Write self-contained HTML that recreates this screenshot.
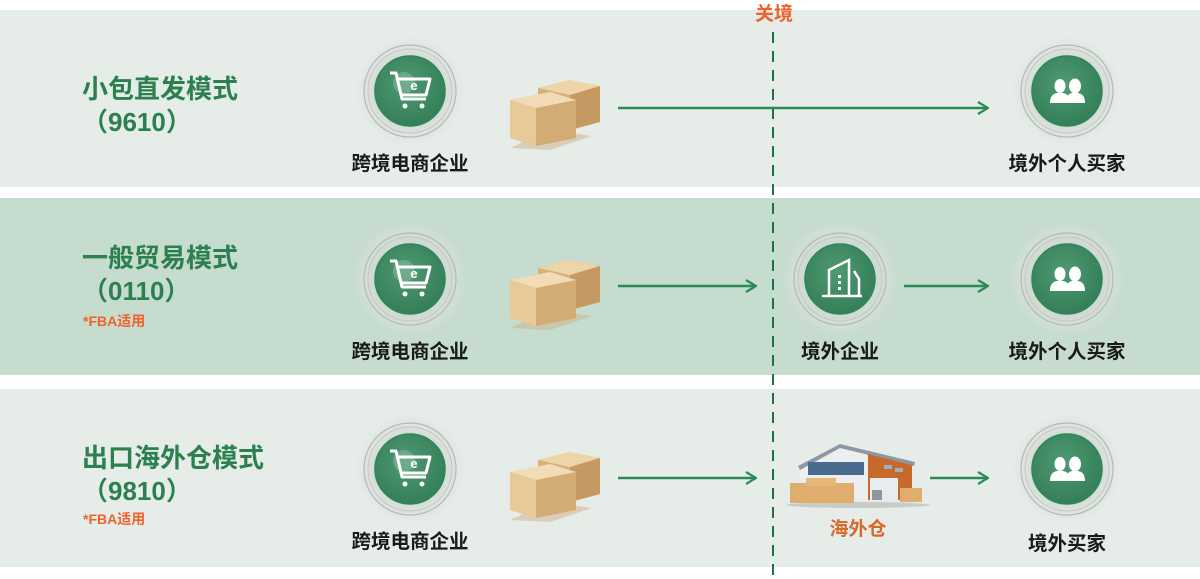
<!DOCTYPE html>
<html><head><meta charset="utf-8">
<style>
html,body{margin:0;padding:0;background:#fff;}
svg{display:block;}
text{font-family:"Liberation Sans","Noto Sans CJK SC",sans-serif;font-weight:bold;}
</style></head>
<body>
<svg width="1200" height="579" viewBox="0 0 1200 579" xmlns="http://www.w3.org/2000/svg">
<defs>
  <radialGradient id="halo" cx="50%" cy="50%" r="50%">
    <stop offset="0.55" stop-color="#cfd4d0" stop-opacity="0.9"/>
    <stop offset="0.8" stop-color="#dadfdb" stop-opacity="0.6"/>
    <stop offset="1" stop-color="#e3e7e4" stop-opacity="0"/>
  </radialGradient>
  <radialGradient id="gfill" cx="45%" cy="40%" r="60%">
    <stop offset="0" stop-color="#4e9a72"/>
    <stop offset="1" stop-color="#357f58"/>
  </radialGradient>
  <g id="circ">
    <circle r="57" fill="url(#halo)"/>
    <circle r="46" fill="none" stroke="#b3b9b5" stroke-width="1.2"/>
    <circle r="42" fill="none" stroke="#c2c7c3" stroke-width="1"/>
    <circle r="35" fill="url(#gfill)" stroke="#2a8a55" stroke-width="1.5"/>
  </g>
  <g id="cart">
    <use href="#circ"/>
    <circle cx="-6" cy="-8" r="11" fill="#fff" opacity="0.2"/>
    <path d="M-20 -18 L-14 -18 L-8 8 L16 8 M-12 -12 L20 -12 L16 4 L-8 4" fill="none" stroke="#fff" stroke-width="3" stroke-linejoin="round"/>
    <text x="4" y="-1" font-size="13" fill="#fff" text-anchor="middle">e</text>
    <circle cx="-5" cy="15" r="2.5" fill="#fff"/><circle cx="12" cy="15" r="2.5" fill="#fff"/>
  </g>
  <g id="people">
    <use href="#circ"/>
    <ellipse cx="-7" cy="-5" rx="5.5" ry="7" fill="#fff"/>
    <path d="M-17 12 Q-17 3 -10 2 L-4 2 Q3 3 3 12 Z" fill="#fff"/>
    <ellipse cx="8" cy="-5" rx="6" ry="7.5" fill="#fff"/>
    <path d="M-1 12 Q-1 3 5 2 L11 2 Q18 3 18 12 Z" fill="#fff"/>
  </g>
  <g id="bldg">
    <use href="#circ"/>
    <path d="M-11 17 L-11 -9 L9 -19 L9 17 M14 -8 L19 0 L19 17 M-18 17 L22 17" fill="none" stroke="#fff" stroke-width="2.5"/>
    <rect x="-2" y="-4" width="3" height="3" fill="#fff"/><rect x="-2" y="2" width="3" height="3" fill="#fff"/><rect x="-2" y="8" width="3" height="3" fill="#fff"/>
  </g>
  <g id="boxes">
    <path d="M0 70 L40 52 L82 58 L40 72 Z" fill="#c9b08a" opacity="0.5"/>
    <polygon points="28,10 60,2 90,8 90,44 60,52 28,44" fill="#d7b07a"/>
    <polygon points="28,10 60,17 90,8 60,2" fill="#eed5a8"/>
    <polygon points="60,17 90,8 90,44 60,52" fill="#c59a62"/>
    <polygon points="0,22 40,14 66,22 66,60 26,68 0,60" fill="#e0bd88"/>
    <polygon points="0,22 26,30 66,22 40,14" fill="#f1dcb5"/>
    <polygon points="26,30 66,22 66,60 26,68" fill="#d3ab74"/>
    <polygon points="0,22 26,30 26,68 0,60" fill="#e8c998"/>
  </g>
  <marker id="ah" viewBox="0 0 12 14" refX="11" refY="7" markerWidth="12" markerHeight="14" markerUnits="userSpaceOnUse" orient="auto">
    <path d="M1 1 L11 7 L1 13" fill="none" stroke="#2a8a55" stroke-width="2.2"/>
  </marker>
</defs>

<rect x="0" y="10" width="1200" height="177" fill="#e6ede8"/>
<rect x="0" y="198" width="1200" height="177" fill="#c6dccf"/>
<rect x="0" y="389" width="1200" height="178" fill="#e6ede8"/>

<line x1="773" y1="32" x2="773" y2="579" stroke="#1f6f48" stroke-width="2" stroke-dasharray="11 8"/>
<text x="774" y="20" font-size="19" fill="#f0622a" text-anchor="middle">关境</text>

<g fill="#2c8050" font-size="26">
<text x="82" y="98">小包直发模式</text>
<text x="82" y="131">（9610）</text>
<text x="82" y="267">一般贸易模式</text>
<text x="82" y="300">（0110）</text>
<text x="82" y="467">出口海外仓模式</text>
<text x="82" y="500">（9810）</text>
</g>
<text x="83" y="326" font-size="14" fill="#f0622a">*FBA适用</text>
<text x="83" y="524" font-size="14" fill="#f0622a">*FBA适用</text>

<use href="#cart" x="410" y="91"/>
<use href="#boxes" x="510" y="78"/>
<line x1="618" y1="108" x2="988" y2="108" stroke="#2a8a55" stroke-width="2.5" marker-end="url(#ah)"/>
<use href="#people" x="1067" y="91"/>
<g font-size="19.5" fill="#1a1a1a" text-anchor="middle">
<text x="410" y="170">跨境电商企业</text>
<text x="1067" y="170">境外个人买家</text>
</g>

<use href="#cart" x="410" y="279"/>
<use href="#boxes" x="510" y="258"/>
<line x1="618" y1="286" x2="756" y2="286" stroke="#2a8a55" stroke-width="2.5" marker-end="url(#ah)"/>
<use href="#bldg" x="840" y="279"/>
<line x1="904" y1="286" x2="988" y2="286" stroke="#2a8a55" stroke-width="2.5" marker-end="url(#ah)"/>
<use href="#people" x="1067" y="279"/>
<g font-size="19.5" fill="#1a1a1a" text-anchor="middle">
<text x="410" y="358">跨境电商企业</text>
<text x="840" y="358">境外企业</text>
<text x="1067" y="358">境外个人买家</text>
</g>

<use href="#cart" x="410" y="469"/>
<use href="#boxes" x="510" y="450"/>
<line x1="618" y1="478" x2="756" y2="478" stroke="#2a8a55" stroke-width="2.5" marker-end="url(#ah)"/>
<g>
  <ellipse cx="858" cy="505" rx="72" ry="3" fill="#c8ccc8"/>
  <polygon points="800,464 800,500 870,500 870,464 860,446 838,444" fill="#eceeef"/>
  <polygon points="798,466 840,444 915,462 914,466 840,448 800,470" fill="#8e98a4"/>
  <polygon points="868,454 912,465 912,500 868,500" fill="#c6692a"/>
  <rect x="808" y="462" width="56" height="13" fill="#4a6a8e"/>
  <rect x="884" y="465" width="8" height="4" fill="#9fb0c2"/>
  <rect x="895" y="468" width="8" height="4" fill="#9fb0c2"/>
  <rect x="870" y="478" width="28" height="22" fill="#e9ecee"/>
  <rect x="872" y="490" width="10" height="10" fill="#8d96a0"/>
  <rect x="790" y="483" width="64" height="20" fill="#dfae6e"/>
  <rect x="806" y="478" width="30" height="8" fill="#e6b978"/>
  <rect x="900" y="488" width="22" height="14" fill="#dfae6e"/>
</g>
<line x1="930" y1="478" x2="988" y2="478" stroke="#2a8a55" stroke-width="2.5" marker-end="url(#ah)"/>
<use href="#people" x="1067" y="469"/>
<g font-size="19.5" fill="#1a1a1a" text-anchor="middle">
<text x="410" y="548">跨境电商企业</text>
<text x="1067" y="550">境外买家</text>
</g>
<text x="858" y="535" font-size="19" fill="#d8692a" text-anchor="middle">海外仓</text>
</svg>
</body></html>
